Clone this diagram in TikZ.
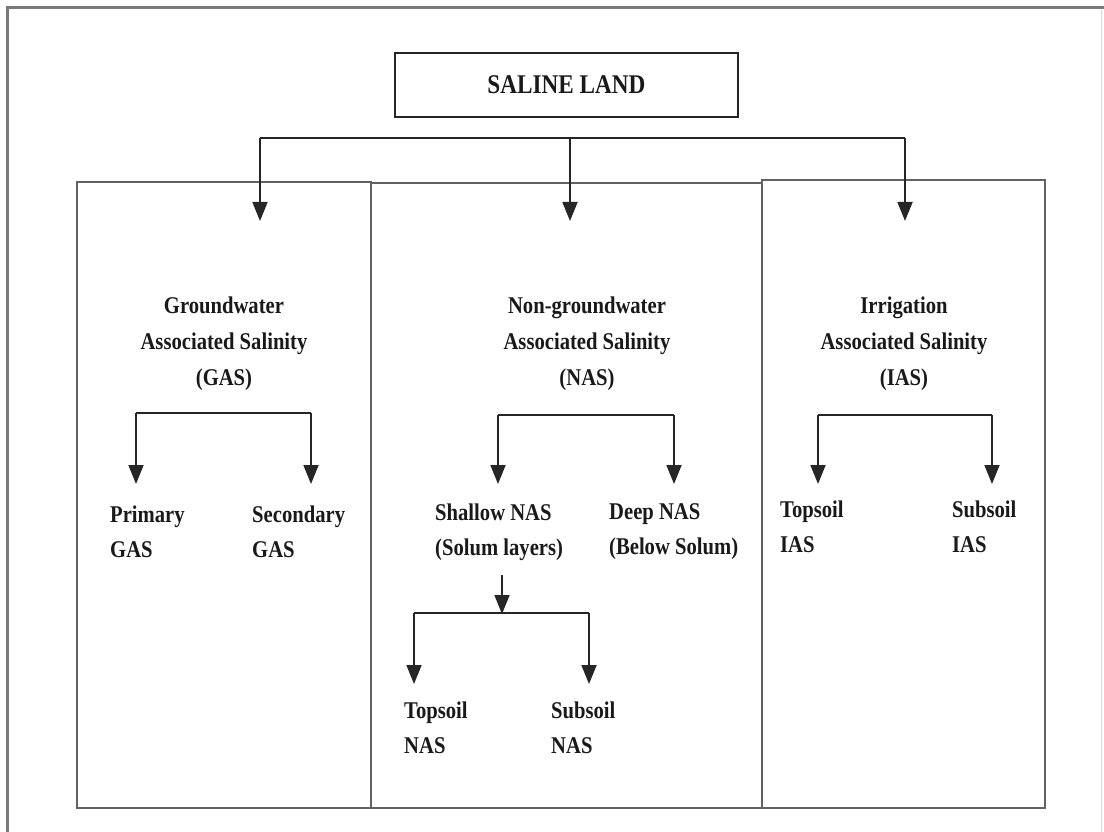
\documentclass[tikz,border=0pt]{standalone}
\usepackage{fontspec}
\setmainfont[FakeStretch=0.86]{Liberation Serif}
\usetikzlibrary{arrows.meta}
\definecolor{linec}{HTML}{262626}
\definecolor{framec}{HTML}{7A7A7A}
\tikzset{
  conn/.style={draw=linec, line width=1.8pt},
  arr/.style={conn, -{Triangle[width=15pt,length=19pt]}},
  panel/.style={draw=framec!80!black, line width=1.8pt},
  head/.style={font=\fontsize{24}{36}\selectfont\bfseries, align=center, inner sep=0pt, text=black!90},
  leaf/.style={font=\fontsize{24}{35}\selectfont\bfseries, align=left, anchor=west, inner sep=0pt, text=black!90},
  titlebox/.style={draw=linec, line width=1.8pt, minimum width=343pt, minimum height=64pt,
     font=\fontsize{27}{30}\selectfont\bfseries, inner sep=0pt, text=black!90}
}
\begin{document}
\begin{tikzpicture}[x=1pt,y=-1pt]
\useasboundingbox (0,0) rectangle (1104,832);
% outer frame
\draw[framec, line width=3pt] (7,832) -- (7,8) -- (1104,8);
\draw[black!15, line width=1pt] (1101,10) -- (1101,832);
% panels
\draw[panel] (77,182) rectangle (371,808);
\draw[panel] (371,183) rectangle (762,808);
\draw[panel] (762,180) rectangle (1045,808);
% title
\node[titlebox] (saline) at (566.5,85) {SALINE LAND};
% bus coordinates
\coordinate (bL) at (260,138);
\coordinate (bM) at (570,138);
\coordinate (bR) at (905,138);
\coordinate (tL) at (260,221);
\coordinate (tM) at (570,221);
\coordinate (tR) at (905,221);
\draw[conn] (bL) -- (bR);
\draw[arr] (bL) -- (tL);
\draw[arr] (bM) -- (tM);
\draw[arr] (bR) -- (tR);
% headings
\node[head] (gas) at (224,344) {Groundwater\\Associated Salinity\\(GAS)};
\node[head] (nas) at (587,344) {Non-groundwater\\Associated Salinity\\(NAS)};
\node[head] (ias) at (904,344) {Irrigation\\Associated Salinity\\(IAS)};
% GAS branch
\coordinate (g1) at (136,413);
\coordinate (g2) at (311,413);
\coordinate (g1t) at (136,484);
\coordinate (g2t) at (311,484);
\draw[conn] (g1) -- (g2);
\draw[arr] (g1) -- (g1t);
\draw[arr] (g2) -- (g2t);
\node[leaf] (prim) at (110,532) {Primary\\GAS};
\node[leaf] (sec) at (252,532) {Secondary\\GAS};
% NAS branch
\coordinate (n1) at (498,415);
\coordinate (n2) at (674,415);
\coordinate (n1t) at (498,484);
\coordinate (n2t) at (674,484);
\draw[conn] (n1) -- (n2);
\draw[arr] (n1) -- (n1t);
\draw[arr] (n2) -- (n2t);
\node[leaf] (shallow) at (435,532) {Shallow NAS\\(Solum layers)};
\node[leaf] (deep) at (609,532) {Deep NAS\\(Below Solum)};
% shallow sub-branch
\coordinate (s0) at (502,575);
\coordinate (s0t) at (502,614);
\coordinate (s1) at (414,613);
\coordinate (s2) at (589,613);
\coordinate (s1t) at (414,684);
\coordinate (s2t) at (589,684);
\draw[arr] (s0) -- (s0t);
\draw[conn] (s1) -- (s2);
\draw[arr] (s1) -- (s1t);
\draw[arr] (s2) -- (s2t);
\node[leaf] (topn) at (404,728) {Topsoil\\NAS};
\node[leaf] (subn) at (551,728) {Subsoil\\NAS};
% IAS branch
\coordinate (i1) at (818,415);
\coordinate (i2) at (992,415);
\coordinate (i1t) at (818,484);
\coordinate (i2t) at (992,484);
\draw[conn] (i1) -- (i2);
\draw[arr] (i1) -- (i1t);
\draw[arr] (i2) -- (i2t);
\node[leaf] (topi) at (780,527) {Topsoil\\IAS};
\node[leaf] (subi) at (952,527) {Subsoil\\IAS};
\end{tikzpicture}
\end{document}
